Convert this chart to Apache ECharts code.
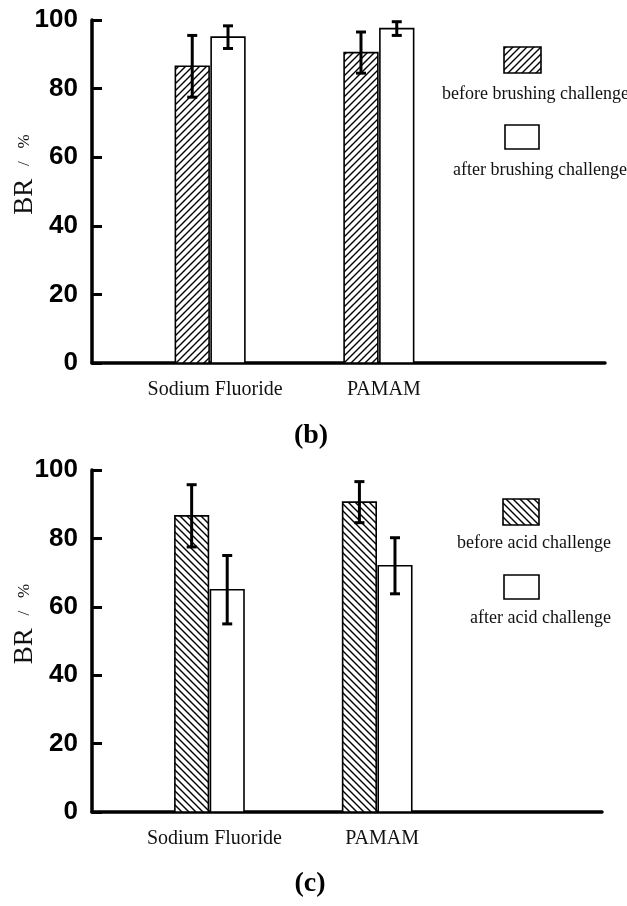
<!DOCTYPE html>
<html lang="en">
<head>
<meta charset="UTF-8">
<title>BR chart</title>
<script src="https://cdn.jsdelivr.net/npm/echarts@6/dist/echarts.min.js"></script>
<style>
  html, body { margin: 0; padding: 0; background: #fff; }
  #main { width: 627px; height: 906px; }
</style>
</head>
<body>
<div id="main"></div>
<script>
// data
var categories = ['Sodium Fluoride', 'PAMAM'];
var yTicks = [0, 20, 40, 60, 80, 100];

// panel (b): brushing challenge
var brushBefore = [86.5, 90.5];
var brushBeforeErr = [9, 6];
var brushAfter = [95, 97.5];
var brushAfterErr = [3.3, 2];

// panel (c): acid challenge
var acidBefore = [86.6, 90.6];
var acidBeforeErr = [9.1, 6];
var acidAfter = [65, 72];
var acidAfterErr = [10, 8.2];

var legendB = ['before brushing challenge', 'after brushing challenge'];
var legendC = ['before acid challenge', 'after acid challenge'];

var groupOffset = 0.7;   // where the first group sits on the x scale
var barW = 0.2, gap = 0.006;

var serif = '"Liberation Serif", "Times New Roman", serif';
var sans = '"Liberation Sans", Arial, sans-serif';

// hatch tiles, dir 1 = '/', dir -1 = '\'
function hatch(dir) {
    var s = 7;
    var c = document.createElement('canvas');
    c.width = c.height = s;
    var g = c.getContext('2d');
    g.fillStyle = '#fff';
    g.fillRect(0, 0, s, s);
    g.strokeStyle = '#000';
    g.lineWidth = 1.4;
    g.beginPath();
    if (dir > 0) {
        g.moveTo(-1, s + 1); g.lineTo(s + 1, -1);
        g.moveTo(-1, 1); g.lineTo(1, -1);
        g.moveTo(s - 1, s + 1); g.lineTo(s + 1, s - 1);
    } else {
        g.moveTo(-1, -1); g.lineTo(s + 1, s + 1);
        g.moveTo(s - 1, -1); g.lineTo(s + 1, 1);
        g.moveTo(-1, s - 1); g.lineTo(1, s + 1);
    }
    g.stroke();
    return { image: c, repeat: 'repeat' };
}
var fwd = hatch(1), back = hatch(-1);

function toData(vals, errs) {
    return vals.map(function (v, i) { return [i + groupOffset, v, errs[i]]; });
}

function barRender(side, fill) {
    return function (params, api) {
        var x = api.value(0), v = api.value(1), e = api.value(2);
        var x0 = side < 0 ? x - gap - barW : x + gap;
        var x1 = side < 0 ? x - gap : x + gap + barW;
        var tl = api.coord([x0, v]);
        var br = api.coord([x1, 0]);
        var cx = (tl[0] + br[0]) / 2;
        var hi = api.coord([x, v + e])[1];
        var lo = api.coord([x, v - e])[1];
        var cap = 5;
        return {
            type: 'group',
            children: [
                { type: 'rect', shape: { x: tl[0], y: tl[1], width: br[0] - tl[0], height: br[1] - tl[1] },
                  style: { fill: fill, stroke: '#000', lineWidth: 1.6 } },
                { type: 'line', shape: { x1: cx, y1: hi, x2: cx, y2: lo }, style: { stroke: '#000', lineWidth: 3 } },
                { type: 'line', shape: { x1: cx - cap, y1: hi, x2: cx + cap, y2: hi }, style: { stroke: '#000', lineWidth: 3 } },
                { type: 'line', shape: { x1: cx - cap, y1: lo, x2: cx + cap, y2: lo }, style: { stroke: '#000', lineWidth: 3 } }
            ]
        };
    };
}

function xAxisFor(idx) {
    return {
        gridIndex: idx,
        type: 'value',
        min: 0,
        max: 3.04,
        axisLine: { lineStyle: { color: '#000', width: 3.5 } },
        axisTick: { show: false },
        splitLine: { show: false },
        axisLabel: {
            customValues: categories.map(function (c, i) { return i + groupOffset; }),
            formatter: function (v) { return categories[Math.round(v - groupOffset)]; },
            color: '#111',
            fontFamily: serif,
            fontSize: 20,
            padding: [0, 0, 0, 10],
            margin: 17
        }
    };
}

function yAxisFor(idx) {
    return {
        gridIndex: idx,
        type: 'value',
        min: yTicks[0],
        max: yTicks[yTicks.length - 1],
        interval: yTicks[1] - yTicks[0],
        name: '{a|BR}{b|   /   %}',
        nameLocation: 'middle',
        nameGap: 54,
        nameMoveOverlap: false,
        nameTextStyle: {
            padding: [0, 0, 0, 34],
            rich: {
                a: { fontFamily: serif, fontSize: 27, color: '#111' },
                b: { fontFamily: serif, fontSize: 17, color: '#111' }
            }
        },
        axisLine: { lineStyle: { color: '#000', width: 3.5 } },
        axisTick: { inside: true, length: 10, lineStyle: { color: '#000', width: 3 } },
        splitLine: { show: false },
        axisLabel: { color: '#000', fontFamily: sans, fontWeight: 'bold', fontSize: 26, margin: 14 }
    };
}

function legendText(str, x, y) {
    return { type: 'text', x: x, y: y,
             style: { text: str, font: '18px ' + serif, fill: '#111', align: 'left', verticalAlign: 'middle' } };
}

var myChart = echarts.init(document.getElementById('main'));

myChart.setOption({
    backgroundColor: '#fff',
    animation: false,
    grid: [
        { left: 92, top: 20, width: 513, height: 343, outerBoundsMode: 'none' },
        { left: 92, top: 470, width: 510, height: 342, outerBoundsMode: 'none' }
    ],
    xAxis: [xAxisFor(0), xAxisFor(1)],
    yAxis: [yAxisFor(0), yAxisFor(1)],
    series: [
        { type: 'custom', xAxisIndex: 0, yAxisIndex: 0, renderItem: barRender(-1, fwd), data: toData(brushBefore, brushBeforeErr) },
        { type: 'custom', xAxisIndex: 0, yAxisIndex: 0, renderItem: barRender(1, '#fff'), data: toData(brushAfter, brushAfterErr) },
        { type: 'custom', xAxisIndex: 1, yAxisIndex: 1, renderItem: barRender(-1, back), data: toData(acidBefore, acidBeforeErr) },
        { type: 'custom', xAxisIndex: 1, yAxisIndex: 1, renderItem: barRender(1, '#fff'), data: toData(acidAfter, acidAfterErr) }
    ],
    graphic: [
        // legend of panel (b)
        { type: 'rect', shape: { x: 504, y: 47, width: 37, height: 26 }, style: { fill: fwd, stroke: '#000', lineWidth: 1.6 } },
        legendText(legendB[0], 442, 94),
        { type: 'rect', shape: { x: 505, y: 125, width: 34, height: 24 }, style: { fill: '#fff', stroke: '#000', lineWidth: 1.6 } },
        legendText(legendB[1], 453, 170),
        // legend of panel (c)
        { type: 'rect', shape: { x: 503, y: 499, width: 36, height: 26 }, style: { fill: back, stroke: '#000', lineWidth: 1.6 } },
        legendText(legendC[0], 457, 543),
        { type: 'rect', shape: { x: 504, y: 575, width: 35, height: 24 }, style: { fill: '#fff', stroke: '#000', lineWidth: 1.6 } },
        legendText(legendC[1], 470, 618),
        // panel tags
        { type: 'text', x: 311, y: 436, style: { text: '(b)', font: 'bold 28px ' + serif, fill: '#000', align: 'center', verticalAlign: 'middle' } },
        { type: 'text', x: 310, y: 884, style: { text: '(c)', font: 'bold 28px ' + serif, fill: '#000', align: 'center', verticalAlign: 'middle' } }
    ]
});
</script>
</body>
</html>
